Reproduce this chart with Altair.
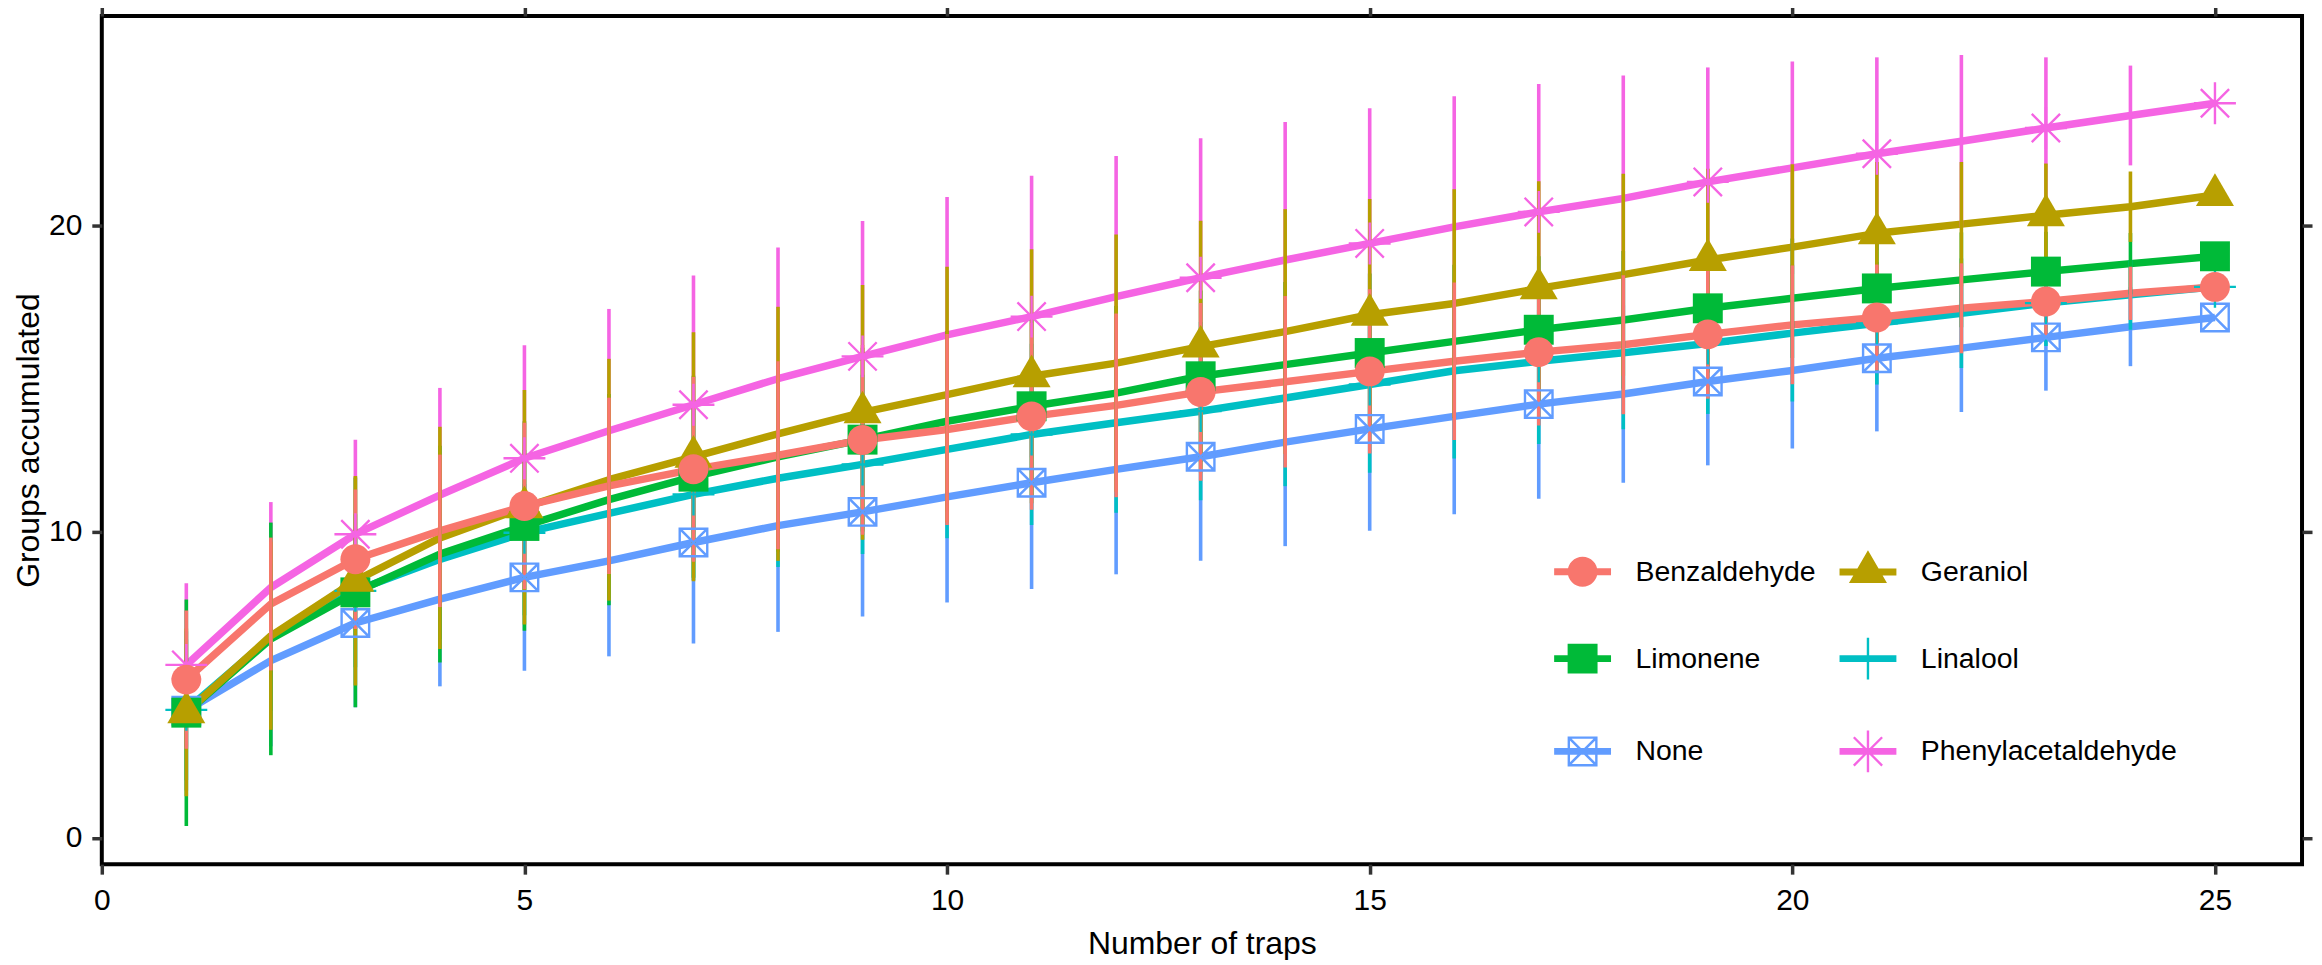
import altair as alt
import pandas as pd

FONT = "Liberation Sans, Arial, sans-serif"

traps = list(range(1, 26))
treatments = ["Benzaldehyde", "Geraniol", "Limonene", "Linalool", "None", "Phenylacetaldehyde"]
colors = ["#F8766D", "#B79F00", "#00BA38", "#00BFC4", "#619CFF", "#F564E3"]
x_ticks = [0, 5, 10, 15, 20, 25]
y_ticks = [0, 10, 20]

benz_mean = [5.17, 7.64, 9.10, 10.03, 10.84, 11.5, 12.04, 12.5, 13.0, 13.34, 13.77, 14.13, 14.57,
             14.9, 15.24, 15.57, 15.87, 16.11, 16.45, 16.76, 17.0, 17.3, 17.52, 17.79, 18.0]
benz_sd = [2.26, 2.17, 2.28, 2.49, 2.72, 2.88, 3.02, 3.07, 3.1, 3.12, 3.05, 3.0, 2.9,
           2.8, 2.68, 2.57, 2.4, 2.27, 2.1, 1.94, 1.73, 1.47, 1.15, 0.87, 0.0]

ger_mean = [4.1, 6.6, 8.4, 9.8, 10.8, 11.7, 12.45, 13.2, 13.9, 14.48, 15.08, 15.51, 16.05,
            16.54, 17.09, 17.46, 17.95, 18.4, 18.88, 19.3, 19.75, 20.05, 20.34, 20.62, 21.0]
ger_sd = [2.74, 3.07, 3.42, 3.63, 3.83, 3.95, 4.07, 4.15, 4.16, 4.18, 4.15, 4.2, 4.11,
          4.0, 3.78, 3.73, 3.5, 3.3, 2.98, 2.71, 2.33, 2.03, 1.69, 1.15, 0.0]

lim_mean = [4.09, 6.5, 8.02, 9.27, 10.19, 11.05, 11.8, 12.45, 13.01, 13.61, 14.1, 14.53, 15.08,
            15.46, 15.84, 16.22, 16.6, 16.92, 17.3, 17.63, 17.95, 18.23, 18.5, 18.76, 19.0]
lim_sd = [3.7, 3.8, 3.75, 3.54, 3.42, 3.45, 3.3, 3.1, 3.0, 2.95, 2.9, 2.85, 2.8,
          2.7, 2.6, 2.5, 2.4, 2.25, 2.1, 1.95, 1.75, 1.55, 1.3, 1.0, 0.0]

lin_mean = [4.18, 6.55, 8.07, 9.1, 9.97, 10.6, 11.22, 11.75, 12.2, 12.69, 13.18, 13.56, 13.94,
            14.37, 14.81, 15.26, 15.57, 15.85, 16.15, 16.49, 16.81, 17.14, 17.47, 17.74, 18.0]
lin_sd = [2.3, 2.4, 2.5, 2.6, 2.7, 2.75, 2.8, 2.9, 2.93, 2.9, 2.96, 2.94, 2.91,
          2.88, 2.88, 2.87, 2.7, 2.5, 2.3, 2.23, 2.0, 1.79, 1.4, 1.14, 0.0]

none_mean = [4.15, 5.79, 7.02, 7.8, 8.51, 9.05, 9.65, 10.2, 10.65, 11.14, 11.6, 12.04, 12.45,
             12.93, 13.36, 13.77, 14.17, 14.5, 14.91, 15.27, 15.67, 16.0, 16.35, 16.7, 17.0]
none_sd = [2.6, 2.8, 2.75, 2.85, 3.05, 3.12, 3.3, 3.47, 3.42, 3.45, 3.47, 3.43, 3.4,
           3.4, 3.33, 3.2, 3.09, 2.9, 2.74, 2.55, 2.39, 2.09, 1.74, 1.29, 0.0]

phen_mean = [5.65, 8.18, 9.92, 11.2, 12.4, 13.3, 14.15, 15.0, 15.73, 16.43, 17.03, 17.68, 18.3,
             18.88, 19.42, 19.96, 20.45, 20.89, 21.43, 21.89, 22.35, 22.76, 23.19, 23.6, 24.0]
phen_sd = [2.67, 2.79, 3.09, 3.5, 3.69, 3.98, 4.22, 4.29, 4.42, 4.51, 4.6, 4.6, 4.56,
           4.51, 4.42, 4.27, 4.18, 4.02, 3.74, 3.47, 3.15, 2.82, 2.31, 1.63, 0.0]

means = dict(zip(treatments, [benz_mean, ger_mean, lim_mean, lin_mean, none_mean, phen_mean]))
sds = dict(zip(treatments, [benz_sd, ger_sd, lim_sd, lin_sd, none_sd, phen_sd]))

# drawing order: last one on top
draw_order = list(reversed(treatments))

rows = []
for rank, t in enumerate(draw_order):
    for i, x in enumerate(traps):
        m, s = means[t][i], sds[t][i]
        rows.append({"treatment": t, "traps": x, "mean": m, "lo": m - s, "hi": m + s,
                     "odd": x % 2 == 1, "rank": rank})
df = pd.DataFrame(rows).sort_values(["rank", "traps"]).reset_index(drop=True)

# symbol paths (unit = half symbol width)
SQ = "M-1,-1 L1,-1 L1,1 L-1,1 Z"
CIRC = "M1,0 A1,1 0 1,1 -1,0 A1,1 0 1,1 1,0 Z"
TRI = "M0,-1.45 L1.27,0.73 L-1.27,0.73 Z"
PLUS = "M-1.4,-0.08 L1.4,-0.08 L1.4,0.08 L-1.4,0.08 Z M-0.08,-1.4 L0.08,-1.4 L0.08,1.4 L-0.08,1.4 Z"
BOXX = ("M-1,-1 L1,-1 L1,1 L-1,1 Z M-0.84,-0.84 L-0.84,0.84 L0.84,0.84 L0.84,-0.84 Z "
        "M-0.88,-1 L1,0.88 L0.88,1 L-1,-0.88 Z M0.88,-1 L1,-0.88 L-0.88,1 L-1,0.88 Z")
STAR = (PLUS +
        " M-0.89,-1 L1,0.89 L0.89,1 L-1,-0.89 Z M0.89,-1 L1,-0.89 L-0.89,1 L-1,0.89 Z")
BAR = "M-1.9,-0.23 L1.9,-0.23 L1.9,0.23 L-1.9,0.23 Z "

plot_paths = dict(zip(treatments, [CIRC, TRI, SQ, PLUS, BOXX, STAR]))
legend_paths = [BAR + plot_paths[t] for t in treatments]

xs = alt.Scale(domain=[0, 26.03], nice=False, zero=False)
ys = alt.Scale(domain=[-0.86, 26.85], nice=False, zero=False)
cs = alt.Scale(domain=treatments, range=colors)

tick_style = dict(grid=False, domain=False, ticks=True, tickSize=10, tickWidth=3.5,
                  tickColor="#333333")

x_bottom = alt.Axis(orient="bottom", values=x_ticks, title="Number of traps",
                    labelFont=FONT, labelFontSize=30, labelColor="black", labelPadding=11,
                    labelFlush=False, labelOverlap=False,
                    titleFont=FONT, titleFontSize=32, titleFontWeight="normal",
                    titleColor="black", titleY=90, titleBaseline="alphabetic", **tick_style)
x_top = alt.Axis(orient="top", values=x_ticks, labels=False, title=None, **tick_style)
y_left = alt.Axis(orient="left", values=y_ticks, title="Groups accumulated",
                  labelFont=FONT, labelFontSize=30, labelColor="black", labelPadding=10,
                  labelFlush=False, labelOverlap=False,
                  titleFont=FONT, titleFontSize=32, titleFontWeight="normal",
                  titleColor="black", titleAngle=270, titleX=-63, titleY=425,
                  titleAlign="center", titleBaseline="alphabetic", **tick_style)
y_right = alt.Axis(orient="right", values=y_ticks, labels=False, title=None, **tick_style)

LEG = alt.Legend(title=None, orient="none", legendX=1469, legendY=542, columns=2,
                 direction="horizontal",
                 symbolSize=900, symbolStrokeWidth=0, symbolOpacity=1,
                 labelFont=FONT, labelFontSize=28.5, labelColor="black", labelOffset=38,
                 labelLimit=1000, columnPadding=23, rowPadding=51, padding=0)

color = alt.Color("treatment:N", scale=cs, legend=LEG)

layers = []
for i, t in enumerate(draw_order):
    layers.append(
        alt.Chart(df).transform_filter(alt.datum.treatment == t)
        .mark_line(strokeWidth=7.5, strokeJoin="round")
        .encode(x=alt.X("traps:Q", scale=xs, axis=x_top if i == 0 else None),
                y=alt.Y("mean:Q", scale=ys, axis=y_right if i == 0 else None),
                color=color)
    )

layers.append(
    alt.Chart(df).mark_rule(strokeWidth=3.6)
    .encode(x=alt.X("traps:Q", scale=xs, axis=x_bottom),
            y=alt.Y("lo:Q", scale=ys, axis=y_left),
            y2="hi:Q",
            color=color)
)

for t in draw_order:
    layers.append(
        alt.Chart(df).transform_filter((alt.datum.treatment == t) & alt.datum.odd)
        .mark_point(shape=plot_paths[t], size=900, filled=True, opacity=1, strokeWidth=0)
        .encode(x=alt.X("traps:Q", scale=xs, axis=None),
                y=alt.Y("mean:Q", scale=ys, axis=None),
                color=color)
    )

layers.append(
    alt.Chart(df).transform_filter(alt.datum.traps < 0)
    .mark_point(filled=True, opacity=1, size=900, strokeWidth=0)
    .encode(x=alt.X("traps:Q", scale=xs, axis=None),
            y=alt.Y("mean:Q", scale=ys, axis=None),
            color=color,
            shape=alt.Shape("treatment:N",
                            scale=alt.Scale(domain=treatments, range=legend_paths),
                            legend=LEG))
)

chart = (
    alt.layer(*layers)
    .resolve_axis(x="independent", y="independent")
    .properties(width=2205, height=850,
                autosize=alt.AutoSizeParams(type="none"),
                padding={"left": 94, "top": 7, "right": 12, "bottom": 95},
                background="white")
    .configure_view(stroke="black", strokeWidth=4)
)

chart.save("out.html", embed_options={"renderer": "svg", "actions": False})
